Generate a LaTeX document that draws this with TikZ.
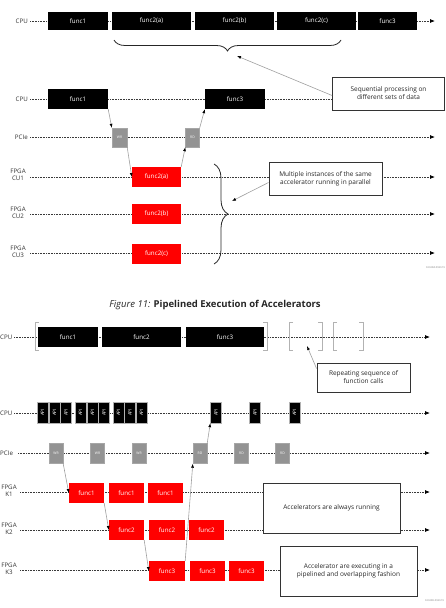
\documentclass[tikz,border=0pt]{standalone}
\usepackage{fontspec}
\setmainfont{Open Sans}
\usetikzlibrary{arrows.meta,decorations.pathreplacing}
\begin{document}
\begin{tikzpicture}[x=1pt,y=-1pt,
  tline/.style={draw=gray!45!black, line width=0.75pt, dash pattern=on 0.8pt off 0.8pt},
  tarrow/.style={tline, -{Latex[length=5pt,width=4pt,color=black]}},
  boxbase/.style={inner sep=0pt, text=white, font=\fontsize{6.2}{7}\selectfont},
  blkbox/.style={boxbase, fill=black},
  redbox/.style={boxbase, fill=red},
  gbox/.style={boxbase, fill=gray!85, draw=gray!70, line width=0.4pt, font=\fontsize{3.4}{4}\selectfont, minimum width=14pt, minimum height=20pt},
  apibox/.style={boxbase, fill=black, draw=gray!60, line width=0.4pt, font=\fontsize{4.6}{5}\selectfont, minimum width=11pt, minimum height=21pt},
  lbl/.style={font=\fontsize{6.2}{7}\selectfont, text=gray!40!black, align=center, inner sep=0pt},
  callout/.style={draw=black!80, line width=0.9pt, fill=white, align=center, font=\fontsize{6.5}{8}\selectfont, text=black!85, inner sep=0pt},
  conn/.style={draw=gray!75, line width=0.6pt, -{Latex[length=4pt,width=3pt,color=black]}},
  brc/.style={draw=gray!30!black, line width=0.8pt, decorate},
  brk/.style={draw=gray!60, line width=0.8pt},
  idtxt/.style={font=\fontsize{2.6}{3}\selectfont, text=gray, inner sep=0pt}
]
\useasboundingbox (0,0) rectangle (445,608);

% ================= TOP: sequential =================
\node[lbl, anchor=east] (lcpu1) at (28,21) {CPU};
\coordinate (s1) at (30,21);
\coordinate (e1) at (435,21);
\draw[tarrow] (s1) -- (e1);
\node[blkbox, minimum width=60pt, minimum height=18pt] (af1) at (78,21) {func1};
\node[blkbox, minimum width=79pt, minimum height=18pt] (af2a) at (151.5,21) {func2(a)};
\node[blkbox, minimum width=79pt, minimum height=18pt] (af2b) at (234.5,21) {func2(b)};
\node[blkbox, minimum width=79pt, minimum height=18pt] (af2c) at (316.5,21) {func2(c)};
\node[blkbox, minimum width=59pt, minimum height=18pt] (af3) at (387.5,21) {func3};
\coordinate (b1s) at (114,40);
\coordinate (b1e) at (341,40);
\draw[brc, decoration={brace, amplitude=11pt, mirror}] (b1s) -- (b1e);
\coordinate (b1tip) at (237,56);

% second CPU row
\node[lbl, anchor=east] (lcpu2) at (28,99) {CPU};
\node[callout, minimum width=112pt, minimum height=33pt] (c1) at (388.5,93.5) {Sequential processing on\\different sets of data};
\coordinate (s2) at (30,99);
\draw[tline] (s2) -- (c1.west |- s2);
\node[blkbox, minimum width=60pt, minimum height=20pt] (bf1) at (78,99) {func1};
\node[blkbox, minimum width=60pt, minimum height=20pt] (bf3) at (235,99) {func3};
\draw[conn] (c1.west) ++(0,2) coordinate (c1a) -- (b1tip);

% PCIe
\node[lbl, anchor=east] (lpcie1) at (28,137) {PCIe};
\coordinate (s3) at (30,137);
\coordinate (e3) at (435,137);
\draw[tarrow] (s3) -- (e3);
\node[gbox, minimum width=15pt, minimum height=19pt] (wr1) at (119.5,137.5) {WR};
\node[gbox, minimum width=14pt, minimum height=19pt] (rd1) at (192.5,137.5) {RD};

% FPGA CUs
\node[lbl] (lcu1) at (18,175) {FPGA\\CU1};
\node[lbl] (lcu2) at (18,213) {FPGA\\CU2};
\node[lbl] (lcu3) at (18,252) {FPGA\\CU3};
\coordinate (s4) at (30,177);
\coordinate (e4) at (435,177);
\coordinate (s5) at (30,214);
\coordinate (e5) at (435,214);
\coordinate (s6) at (30,253);
\coordinate (e6) at (435,253);
\draw[tarrow] (s4) -- (e4);
\draw[tarrow] (s5) -- (e5);
\draw[tarrow] (s6) -- (e6);
\node[redbox, minimum width=49pt, minimum height=20pt] (cu1f) at (156.5,177) {func2(a)};
\node[redbox, minimum width=49pt, minimum height=20pt] (cu2f) at (156.5,214) {func2(b)};
\node[redbox, minimum width=49pt, minimum height=20pt] (cu3f) at (156.5,254) {func2(c)};
\coordinate (b2s) at (214,164);
\coordinate (b2e) at (214,264);
\draw[brc, decoration={brace, amplitude=14pt}] (b2s) -- (b2e);
\node[callout, minimum width=113pt, minimum height=33pt] (c2) at (325.5,178.5) {Multiple instances of the same\\accelerator running in parallel};
\coordinate (b2tip) at (232,201);
\draw[conn] (c2.west) ++(0,4) coordinate (c2a) -- (b2tip);

% connectors top
\draw[conn] (bf1.south east) -- (wr1.north west);
\draw[conn] (wr1.south east) -- (cu1f.west);
\draw[conn] (cu1f.north east) -- (rd1.south west);
\draw[conn] (rd1.north east) -- (bf3.south west);

\node[idtxt, anchor=east] (id1) at (445,268) {X23284-092619};

% ================= caption =================
\node[font=\fontsize{9.5}{11}\selectfont, text=black!85, inner sep=0pt] (cap) at (215,305) {\textit{Figure 11:} \textbf{Pipelined Execution of Accelerators}};

% ================= BOTTOM: pipelined =================
\node[lbl, anchor=west] (lcpu3) at (0,337) {CPU};
\coordinate (s7) at (14,337);
\coordinate (e7) at (430,337);
\draw[tarrow] (s7) -- (e7);
\node[blkbox, minimum width=60pt, minimum height=20pt] (pf1) at (68,337) {func1};
\node[blkbox, minimum width=79pt, minimum height=20pt] (pf2) at (141.5,337) {func2};
\node[blkbox, minimum width=78pt, minimum height=20pt] (pf3) at (225,337) {func3};
\draw[brk] (39,322) -- (35,322) -- (35,350) -- (39,350);
\draw[brk] (263,322) -- (267,322) -- (267,350) -- (263,350);
\draw[brk] (293,322) -- (289,322) -- (289,350) -- (293,350);
\draw[brk] (318,322) -- (322,322) -- (322,350) -- (318,350);
\draw[brk] (337,322) -- (333,322) -- (333,350) -- (337,350);
\draw[brk] (359,322) -- (363,322) -- (363,350) -- (359,350);
\node[callout, minimum width=93pt, minimum height=29pt] (c3) at (363.5,377.5) {Repeating sequence of\\function calls};
\coordinate (b3tip) at (307,346);
\draw[conn] (c3.north west) ++(0,6) coordinate (c3a) -- (b3tip);

% API row
\node[lbl, anchor=west] (lcpu4) at (0,413) {CPU};
\coordinate (s8) at (14,413);
\coordinate (e8) at (430,413);
\draw[tarrow] (s8) -- (e8);
\foreach \i/\xx in {1/42.5,2/54.5,3/66,4/80.5,5/92.5,6/104,7/118.5,8/130,9/141.5,10/216,11/255,12/294.5}
  \node[apibox] (api\i) at (\xx,412.5) {\rotatebox{90}{API}};

% PCIe row
\node[lbl, anchor=west] (lpcie2) at (0,453) {PCIe};
\coordinate (s9) at (18,453);
\coordinate (e9) at (430,453);
\draw[tarrow] (s9) -- (e9);
\node[gbox] (pw1) at (56,453.5) {WR};
\node[gbox] (pw2) at (97.5,453.5) {WR};
\node[gbox] (pw3) at (139,453.5) {WR};
\node[gbox] (pr1) at (200,453.5) {RD};
\node[gbox] (pr2) at (241.5,453.5) {RD};
\node[gbox] (pr3) at (282.5,453.5) {RD};

% K rows
\node[lbl] (lk1) at (9,491) {FPGA\\K1};
\node[lbl] (lk2) at (9,529) {FPGA\\K2};
\node[lbl] (lk3) at (9,569) {FPGA\\K3};
\coordinate (s10) at (20,492);
\coordinate (e10) at (430,492);
\coordinate (s11) at (20,530);
\coordinate (e11) at (430,530);
\coordinate (s12) at (20,570);
\coordinate (e12) at (430,570);
\draw[tarrow] (s10) -- (e10);
\draw[tarrow] (s11) -- (e11);
\draw[tarrow] (s12) -- (e12);
\node[redbox, minimum width=35pt, minimum height=20pt] (k1a) at (86.5,493) {func1};
\node[redbox, minimum width=35pt, minimum height=20pt] (k1b) at (126.5,493) {func1};
\node[redbox, minimum width=35pt, minimum height=20pt] (k1c) at (165.5,493) {func1};
\node[redbox, minimum width=35pt, minimum height=20pt] (k2a) at (126.5,530) {func2};
\node[redbox, minimum width=36pt, minimum height=20pt] (k2b) at (167,530) {func2};
\node[redbox, minimum width=35pt, minimum height=20pt] (k2c) at (206.5,530) {func2};
\node[redbox, minimum width=36pt, minimum height=20pt] (k3a) at (167,571) {func3};
\node[redbox, minimum width=35pt, minimum height=20pt] (k3b) at (207.5,571) {func3};
\node[redbox, minimum width=35pt, minimum height=20pt] (k3c) at (246.5,571) {func3};
\node[callout, minimum width=137pt, minimum height=50pt] (c4) at (331.5,508) {Accelerators are always running};
\node[callout, minimum width=137pt, minimum height=50pt] (c5) at (348.5,571) {Accelerator are executing in a\\pipelined and overlapping fashion};

% connectors bottom
\draw[conn] (pw1.south east) -- (k1a.west);
\draw[conn] (k1a.south east) -- (k2a.west);
\draw[conn] (k2a.south east) -- (k3a.west);
\draw[conn] (k3a.north east) -- (pr1.south west);
\draw[conn] (pr1.north east) -- (api10.south west);

\node[idtxt, anchor=east] (id2) at (444,601) {X23286-092619};
\end{tikzpicture}
\end{document}
